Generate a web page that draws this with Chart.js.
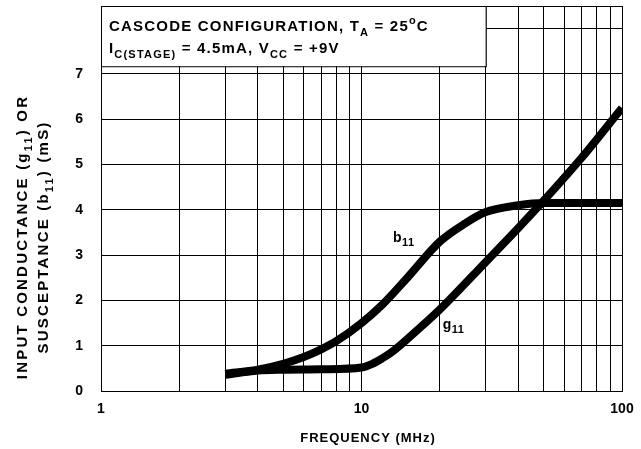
<!DOCTYPE html>
<html>
<head>
<meta charset="utf-8">
<script src="https://cdn.jsdelivr.net/npm/chart.js@4"></script>
<style>
  html, body { margin: 0; padding: 0; background: #fff; }
  #wrap { width: 641px; height: 449px; }
</style>
</head>
<body>
<div id="wrap"><canvas id="c" width="641" height="449"></canvas></div>
<script>
// ---------- Data ----------
const b11Freq = [3, 4, 5, 6, 7, 8, 10, 12, 15, 20, 25, 30, 40, 50, 70, 100];
const b11Vals = [0.38, 0.47, 0.6, 0.75, 0.92, 1.1, 1.5, 1.9, 2.5, 3.3, 3.7, 3.95, 4.1, 4.15, 4.15, 4.15];
const g11Freq = [3, 4, 5, 7, 10, 11, 12, 13, 15, 20, 30, 40, 50, 70, 100];
const g11Vals = [0.36, 0.45, 0.47, 0.48, 0.52, 0.6, 0.72, 0.85, 1.15, 1.8, 2.85, 3.6, 4.2, 5.15, 6.25];
const xTicks = [1, 2, 3, 4, 5, 6, 7, 8, 9, 10, 20, 30, 40, 50, 60, 70, 80, 90, 100];
const xLabels = [1, 10, 100];
const yTicks = [0, 1, 2, 3, 4, 5, 6, 7, 8];
const yLabels = [0, 1, 2, 3, 4, 5, 6, 7];

const FONT = '"Liberation Sans", Arial, Helvetica, sans-serif';

// draw text with subscript / superscript runs
function richWidth(ctx, parts, size) {
  let w = 0;
  parts.forEach((p) => {
    ctx.font = `bold ${p.sub || p.sup ? Math.round(size * 0.75) : size}px ${FONT}`;
    w += ctx.measureText(p.t).width;
  });
  return w;
}
function drawRich(ctx, parts, x, y, size, align) {
  const w = richWidth(ctx, parts, size);
  let cx = align === "center" ? x - w / 2 : x;
  ctx.textAlign = "left";
  ctx.textBaseline = "alphabetic";
  parts.forEach((p) => {
    const s = p.sub || p.sup ? Math.round(size * 0.75) : size;
    ctx.font = `bold ${s}px ${FONT}`;
    const dy = p.sub ? size * 0.3 : p.sup ? -size * 0.45 : 0;
    ctx.fillText(p.t, cx, y + dy);
    cx += ctx.measureText(p.t).width;
  });
}

const annotations = {
  id: "annotations",
  beforeDatasetsDraw(chart) {
    const { ctx, chartArea: a, scales } = chart;
    ctx.save();
    // title box covering the grid
    const bx1 = scales.x.getPixelForValue(30);
    const by1 = scales.y.getPixelForValue(7.17);
    ctx.fillStyle = "#fff";
    ctx.fillRect(a.left, a.top, bx1 - a.left, by1 - a.top);
    ctx.strokeStyle = "#000";
    ctx.lineWidth = 1;
    ctx.strokeRect(a.left + 0.5, a.top + 0.5, bx1 - a.left, by1 - a.top);
    // frame
    ctx.strokeRect(a.left + 0.5, a.top + 0.5, a.right - a.left, a.bottom - a.top);
    ctx.restore();
  },
  afterDraw(chart) {
    const { ctx, chartArea: a, scales } = chart;
    ctx.save();
    ctx.fillStyle = "#000";
    ctx.letterSpacing = "1.2px";
    drawRich(ctx, [
      { t: "CASCODE CONFIGURATION, T" }, { t: "A", sub: true },
      { t: " = 25" }, { t: "o", sup: true }, { t: "C" },
    ], a.left + 8, 31, 15, "left");
    drawRich(ctx, [
      { t: "I" }, { t: "C(STAGE)", sub: true }, { t: " = 4.5mA, V" },
      { t: "CC", sub: true }, { t: " = +9V" },
    ], a.left + 8, 53, 15, "left");

    // curve labels
    ctx.letterSpacing = "0.5px";
    drawRich(ctx, [{ t: "b" }, { t: "11", sub: true }],
      scales.x.getPixelForValue(13.2), scales.y.getPixelForValue(3.3), 14, "left");
    drawRich(ctx, [{ t: "g" }, { t: "11", sub: true }],
      scales.x.getPixelForValue(20.5), scales.y.getPixelForValue(1.37), 14, "left");

    // x title
    ctx.letterSpacing = "1px";
    drawRich(ctx, [{ t: "FREQUENCY (MHz)" }], 368, 442, 13, "center");

    // y title, two rotated lines
    const cy = 237;
    ctx.letterSpacing = "2.2px";
    ctx.translate(0, cy);
    ctx.rotate(-Math.PI / 2);
    drawRich(ctx, [
      { t: "INPUT CONDUCTANCE (g" }, { t: "11", sub: true }, { t: ") OR" },
    ], 0, 27, 15, "center");
    drawRich(ctx, [
      { t: "SUSCEPTANCE (b" }, { t: "11", sub: true }, { t: ") (mS)" },
    ], 0, 48, 15, "center");
    ctx.restore();
  },
};

const toPoints = (xs, ys) => xs.map((x, i) => ({ x, y: ys[i] }));

new Chart(document.getElementById("c"), {
  type: "line",
  data: {
    datasets: [
      {
        label: "b11",
        data: toPoints(b11Freq, b11Vals),
        borderColor: "#000",
        borderWidth: 8,
        borderCapStyle: "butt",
        cubicInterpolationMode: "monotone",
        pointRadius: 0,
        fill: false,
      },
      {
        label: "g11",
        data: toPoints(g11Freq, g11Vals),
        borderColor: "#000",
        borderWidth: 8,
        borderCapStyle: "butt",
        cubicInterpolationMode: "monotone",
        pointRadius: 0,
        fill: false,
      },
    ],
  },
  options: {
    responsive: false,
    animation: false,
    devicePixelRatio: 1,
    layout: { padding: { left: 0, right: 19, top: 6, bottom: 0 } },
    plugins: { legend: { display: false }, tooltip: { enabled: false } },
    scales: {
      x: {
        type: "logarithmic",
        min: 1,
        max: 100,
        afterBuildTicks: (s) => { s.ticks = xTicks.map((v) => ({ value: v })); },
        afterFit: (s) => { s.height = 58; s.paddingLeft = 0; s.paddingRight = 0; },
        grid: { color: "#000", lineWidth: 1, drawTicks: false },
        border: { display: true, color: "#000", width: 1 },
        ticks: {
          color: "#000",
          padding: 10,
          maxRotation: 0,
          autoSkip: false,
          font: { family: FONT, size: 14, weight: "bold" },
          callback: (v) => (xLabels.includes(v) ? String(v) : ""),
        },
      },
      y: {
        min: 0,
        max: 8.5,
        afterBuildTicks: (s) => { s.ticks = yTicks.map((v) => ({ value: v })); },
        afterFit: (s) => { s.width = 101; s.paddingTop = 0; s.paddingBottom = 0; },
        grid: { color: "#000", lineWidth: 1, drawTicks: false },
        border: { display: true, color: "#000", width: 1 },
        ticks: {
          color: "#000",
          padding: 18,
          font: { family: FONT, size: 14, weight: "bold" },
          callback: (v) => (yLabels.includes(v) ? String(v) : ""),
        },
      },
    },
  },
  plugins: [annotations],
});
</script>
</body>
</html>
